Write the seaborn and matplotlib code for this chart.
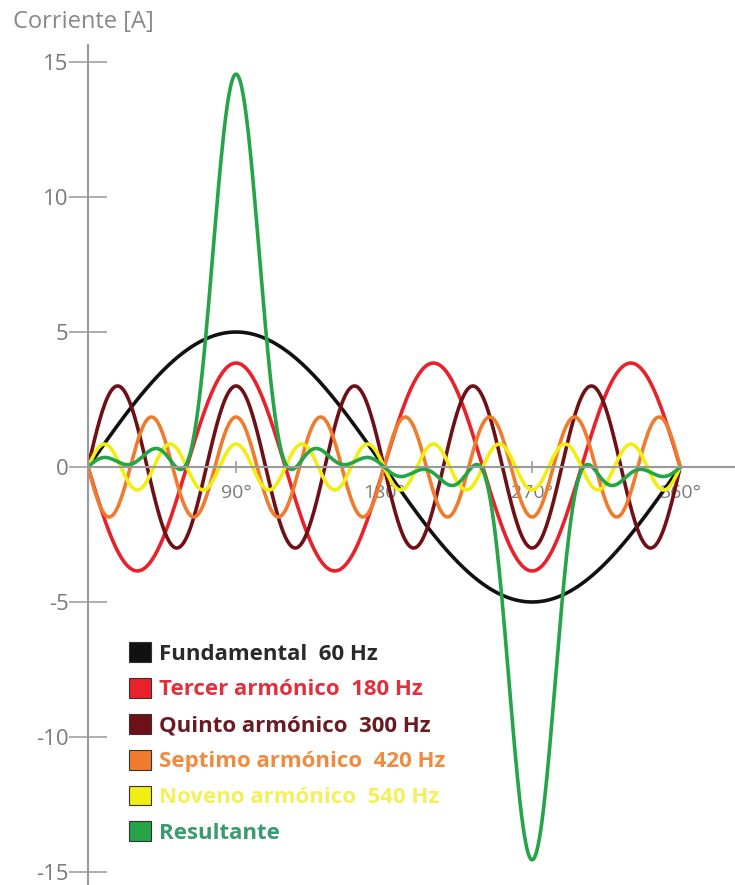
import numpy as np
import pandas as pd
import matplotlib.pyplot as plt
from matplotlib.patches import Patch
import seaborn as sns

# armonicos (amplitud en A)
nombres = ["Fundamental  60 Hz", "Tercer armónico  180 Hz", "Quinto armónico  300 Hz",
           "Septimo armónico  420 Hz", "Noveno armónico  540 Hz"]
ordenes = [1, 3, 5, 7, 9]
amplitudes = [5.0, 3.85, 3.0, 1.85, 0.85]
signos = [1, -1, 1, -1, 1]
colores = ["#111111", "#e8212b", "#6e1016", "#f07b2c", "#f2ee12"]
color_res = "#25a548"
colores_texto = ["#2a2a2a", "#e0303c", "#6a1a22", "#f08a3e", "#f4ef5a", "#3a9a72"]

ticks_y = [-15, -10, -5, 0, 5, 10, 15]
ticks_x = [90, 180, 270, 360]
etiquetas_x = ["90°", "180°", "270°", "360°"]

theta = np.linspace(0, 360, 721)
filas = []
resultante = np.zeros_like(theta)
for n, a, s, nom in zip(ordenes, amplitudes, signos, nombres):
    y = s * a * np.sin(np.radians(n * theta))
    resultante = resultante + y
    filas.append(pd.DataFrame({"grados": theta, "corriente": y, "serie": nom}))
filas.append(pd.DataFrame({"grados": theta, "corriente": resultante, "serie": "Resultante"}))
df = pd.concat(filas, ignore_index=True)

sns.set_style("white")
plt.rcParams["font.family"] = ["Open Sans", "DejaVu Sans"]

fig = plt.figure(figsize=(7.35, 8.85), dpi=100)
ax = fig.add_axes([88 / 735, 0, 647 / 735, 840 / 885])

sns.lineplot(data=df, x="grados", y="corriente", hue="serie",
             palette=colores + [color_res], linewidth=2.6, errorbar=None,
             legend=False, ax=ax)

ax.set_xlim(0, 647 / 1.645)
ax.set_ylim(-418 / 27, 422 / 27)
ax.set_xlabel("")
ax.set_ylabel("")

for lado in ["top", "right"]:
    ax.spines[lado].set_visible(False)
for lado in ["left", "bottom"]:
    ax.spines[lado].set_position(("data", 0))
    ax.spines[lado].set_color("#9a9a9a")
    ax.spines[lado].set_linewidth(1.5)

ax.set_yticks(ticks_y)
ax.set_yticklabels([str(t) for t in ticks_y])
ax.set_xticks(ticks_x)
ax.set_xticklabels(etiquetas_x)
ax.tick_params(axis="y", left=True, direction="inout", length=28, width=1.2, color="#a0a0a0",
               labelcolor="#7a7a7a", labelsize=16, pad=0)
ax.tick_params(axis="x", bottom=True, direction="inout", length=9, width=1.2, color="#a0a0a0",
               labelcolor="#7a7a7a", labelsize=14, pad=8)

fig.text(13 / 735, 1 - 22 / 885, "Corriente [A]", ha="left", va="center",
         fontsize=17, color="#888888")

handles = [Patch(facecolor=c, edgecolor="#333333", linewidth=0.8) for c in colores + [color_res]]
leg = fig.legend(handles, nombres + ["Resultante"], loc="upper left",
                 bbox_to_anchor=(129 / 735, 1 - 642 / 885), frameon=False,
                 handlelength=1.0, handleheight=1.0, handletextpad=0.35,
                 labelspacing=0.6, borderpad=0, borderaxespad=0,
                 prop={"weight": "bold", "size": 16}, labelcolor=colores_texto)

fig.savefig("out.png", dpi=100)
